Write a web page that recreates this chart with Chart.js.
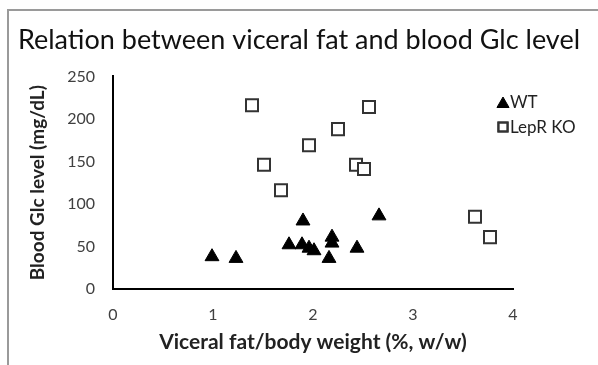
<!DOCTYPE html>
<html>
<head>
<meta charset="utf-8">
<script src="https://cdn.jsdelivr.net/npm/chart.js@4"></script>
<style>
  html, body { margin: 0; padding: 0; background: #fff; }
  #wrap { width: 598px; height: 365px; position: relative; }
</style>
</head>
<body>
<div id="wrap"><canvas id="c" width="598" height="365"></canvas></div>
<script>
// WT mice
const wtX = [0.99, 1.23, 1.76, 1.89, 1.90, 1.96, 2.01, 2.19, 2.19, 2.16, 2.44, 2.66];
const wtY = [38, 36, 52, 52, 80, 48, 45, 61, 54, 36, 48, 86];
// LepR KO mice
const koX = [1.39, 1.51, 1.68, 1.96, 2.25, 2.43, 2.51, 2.56, 3.62, 3.77];
const koY = [216, 146, 116, 169, 188, 146, 141, 214, 85, 61];

const xTicks = [0, 1, 2, 3, 4];
const yTicks = [0, 50, 100, 150, 200, 250];

const FONT = "Lato, 'Open Sans', sans-serif";

function pts(xs, ys) { return xs.map((x, i) => ({ x: x, y: ys[i] })); }

// outer frame + legend drawn beside the plot
const framePlugin = {
    id: "frame",
    beforeDraw(chart) {
        const c = chart.ctx;
        c.save();
        c.strokeStyle = "#9a9a9a";
        c.lineWidth = 2;
        c.beginPath();
        c.moveTo(8, 365);
        c.lineTo(8, 10);
        c.lineTo(598, 10);
        c.stroke();
        c.restore();
    },
    afterDraw(chart) {
        const c = chart.ctx;
        const items = [
            { ds: chart.data.datasets[0], x: 503, y: 102 },
            { ds: chart.data.datasets[1], x: 503, y: 127 }
        ];
        c.save();
        items.forEach(it => {
            const d = it.ds;
            c.fillStyle = d.pointBackgroundColor;
            c.strokeStyle = d.pointBorderColor;
            c.lineWidth = d.pointBorderWidth;
            const r = d.pointStyle === "triangle" ? 7 : 6.5;
            Chart.helpers.drawPoint(c, { pointStyle: d.pointStyle, radius: r, borderWidth: d.pointBorderWidth }, it.x, it.y + (d.pointStyle === "triangle" ? 2 : 0));
            if (d.pointStyle === "rect") c.stroke();
            c.fillStyle = "#222";
            c.font = "17px " + FONT;
            c.textBaseline = "middle";
            c.fillText(d.label, it.x + 7, it.y + 1);
        });
        c.restore();
    }
};

new Chart(document.getElementById("c").getContext("2d"), {
    type: "scatter",
    data: {
        datasets: [
            {
                label: "WT",
                data: pts(wtX, wtY),
                pointStyle: "triangle",
                pointRadius: 8,
                pointBackgroundColor: "#000",
                pointBorderColor: "#000",
                pointBorderWidth: 1
            },
            {
                label: "LepR KO",
                data: pts(koX, koY),
                pointStyle: "rect",
                pointRadius: 8.5,
                pointBackgroundColor: "#fff",
                pointBorderColor: "#333",
                pointBorderWidth: 2
            }
        ]
    },
    options: {
        responsive: false,
        animation: false,
        layout: { padding: 0 },
        plugins: {
            legend: { display: false },
            tooltip: { enabled: false },
            title: {
                display: true,
                text: "Relation between viceral fat and blood Glc level",
                color: "#111",
                font: { family: FONT, size: 27, weight: "normal" },
                padding: { top: 24, bottom: 20 }
            }
        },
        scales: {
            x: {
                type: "linear",
                min: 0, max: 4,
                afterBuildTicks: s => { s.ticks = xTicks.map(v => ({ value: v })); },
                afterFit: s => { s.height = 76; },
                grid: { display: false, drawTicks: true, tickLength: 5, tickColor: "#000" },
                border: { display: true, color: "#000", width: 2 },
                ticks: { color: "#404040", font: { family: FONT, size: 16 }, padding: 11 },
                title: {
                    display: true,
                    text: "Viceral fat/body weight (%, w/w)",
                    color: "#222",
                    font: { family: FONT, size: 21, weight: "bold" },
                    padding: { top: 0, bottom: 10 }
                }
            },
            y: {
                type: "linear",
                min: 0, max: 250,
                afterBuildTicks: s => { s.ticks = yTicks.map(v => ({ value: v })); },
                afterFit: s => { s.width = 113; },
                grid: { display: false, drawTicks: true, tickLength: 5, tickColor: "#000" },
                border: { display: true, color: "#000", width: 2 },
                ticks: { color: "#404040", font: { family: FONT, size: 16 }, padding: 13 },
                title: {
                    display: true,
                    text: "Blood Glc level (mg/dL)",
                    color: "#222",
                    font: { family: FONT, size: 19, weight: "bold" },
                    padding: { top: 26, bottom: 0 }
                }
            },
            // empty right-hand strip that holds the legend
            side: {
                type: "linear",
                position: "right",
                display: true,
                afterFit: s => { s.width = 85; },
                grid: { display: false, drawTicks: false },
                border: { display: false },
                ticks: { display: false }
            }
        }
    },
    plugins: [framePlugin]
});
</script>
</body>
</html>
